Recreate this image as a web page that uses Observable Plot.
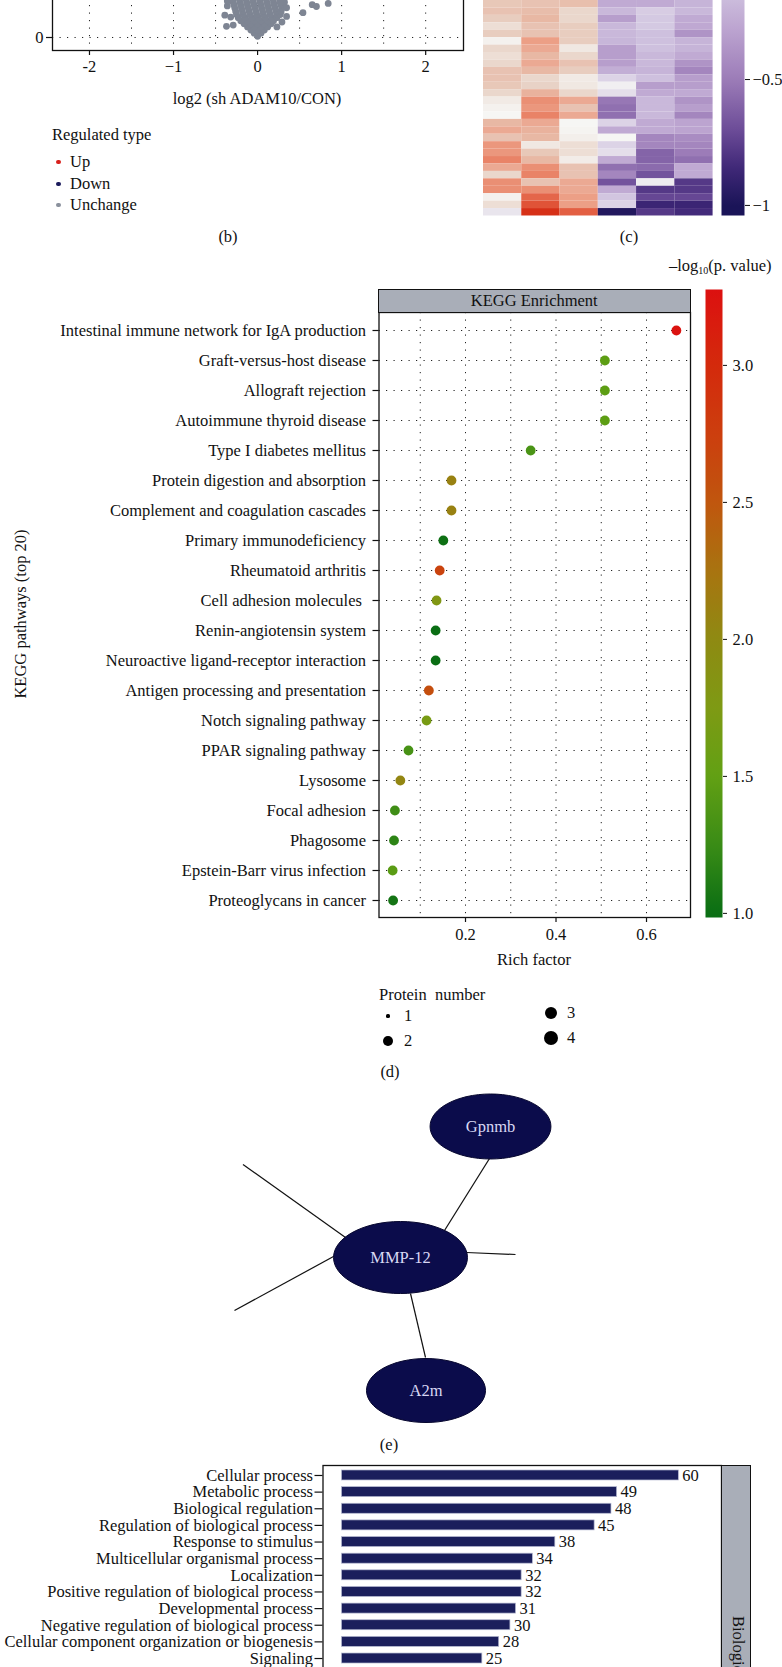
<!DOCTYPE html>
<html><head><meta charset="utf-8">
<script src="https://cdn.jsdelivr.net/npm/d3@7"></script>
<script src="https://cdn.jsdelivr.net/npm/@observablehq/plot@0.6"></script>
<style>
html,body{margin:0;padding:0;background:#fff;}
#fig{position:relative;width:782px;height:1667px;overflow:hidden;font-family:"Liberation Serif","Times New Roman",serif;color:#111;background:#fff;}
.t{position:absolute;font-size:16.5px;line-height:1;white-space:nowrap;}
#fig svg{position:absolute;overflow:visible;}
</style></head>
<body><div id="fig"></div>
<script>
// ---------------- DATA ----------------
// (b) volcano plot: log2 fold change vs significance (only lower part visible)
const volcanoX = [
  0,
  -0.04, 0.04,
  -0.08, 0, 0.08,
  -0.12, -0.04, 0.04, 0.12,
  -0.16, -0.08, 0, 0.08, 0.16,
  -0.2, -0.12, -0.04, 0.04, 0.12, 0.19,
  -0.23, -0.15, -0.07, 0.01, 0.09, 0.17, 0.23,
  -0.25, -0.17, -0.09, -0.01, 0.07, 0.15, 0.23, 0.27,
  -0.26, -0.18, -0.1, -0.02, 0.06, 0.14, 0.22, 0.28,
  -0.27, -0.19, -0.11, -0.03, 0.05, 0.13, 0.21, 0.29,
  -0.28, -0.2, -0.12, -0.04, 0.04, 0.12, 0.2, 0.28, 0.31,
  -0.29, -0.21, -0.13, -0.05, 0.03, 0.11, 0.19, 0.27, 0.32,
  -0.3, -0.22, -0.14, -0.06, 0.02, 0.1, 0.18, 0.26, 0.31,
  -0.3, -0.2, -0.1, 0, 0.1, 0.2, 0.3,
  -0.37, -0.29, -0.32, -0.39, -0.36, -0.36, 0.345, 0.345, 0.29, 0.23, 0.27, 0.54, 0.65, 0.70, 0.84
];
const volcanoY = [
  0.02,
  0.07, 0.07,
  0.12, 0.12, 0.12,
  0.17, 0.17, 0.17, 0.17,
  0.22, 0.22, 0.22, 0.22, 0.22,
  0.27, 0.27, 0.27, 0.27, 0.27, 0.27,
  0.32, 0.32, 0.32, 0.32, 0.32, 0.32, 0.32,
  0.37, 0.37, 0.37, 0.37, 0.37, 0.37, 0.37, 0.37,
  0.42, 0.42, 0.42, 0.42, 0.42, 0.42, 0.42, 0.42,
  0.47, 0.47, 0.47, 0.47, 0.47, 0.47, 0.47, 0.47,
  0.52, 0.52, 0.52, 0.52, 0.52, 0.52, 0.52, 0.52, 0.52,
  0.57, 0.57, 0.57, 0.57, 0.57, 0.57, 0.57, 0.57, 0.57,
  0.62, 0.62, 0.62, 0.62, 0.62, 0.62, 0.62, 0.62, 0.62,
  0.67, 0.67, 0.67, 0.67, 0.67, 0.67, 0.67,
  0.18, 0.20, 0.33, 0.36, 0.51, 0.59, 0.48, 0.34, 0.25, 0.17, 0.57, 0.40, 0.53, 0.50, 0.55
];
const volcanoTicks = [-2, -1, 0, 1, 2];
const volcanoTickLabels = ["-2", "\u22121", "0", "1", "2"];
const volcanoGridX = [-2, -1.5, -1, -0.5, 0, 0.5, 1, 1.5, 2];
const volcanoGridY = [0];
const regulatedTypes = ["Up", "Down", "Unchange"];
const regulatedColors = ["#d8201c", "#1a1a5c", "#8a909c"];

// (c) heatmap: 29 visible proteins x 6 samples (row-scaled values)
const heatCol1 = [0.21,0.24,0.18,0.10,0.18,0.02,0.13,0.10,0.13,0.24,0.24,0.21,0.13,0.05,0.02,0.00,0.30,0.40,0.24,0.52,0.52,0.63,0.40,0.13,0.57,0.57,0.02,0.10,-0.05];
const heatCol2 = [0.24,0.27,0.30,0.24,0.24,0.47,0.40,0.30,0.40,0.30,0.13,0.15,0.34,0.57,0.52,0.63,0.40,0.34,0.30,0.06,0.21,0.30,0.57,0.63,0.24,0.57,0.75,0.83,0.97];
const heatCol3 = [0.26,0.13,0.13,0.18,0.18,0.18,0.06,0.13,0.24,0.18,0.05,0.06,0.13,0.40,0.24,0.40,0.00,0.01,0.03,0.10,0.10,0.04,0.24,0.24,0.40,0.40,0.47,0.47,0.78];
const heatCol4 = [-0.27,-0.20,-0.33,-0.20,-0.20,-0.21,-0.33,-0.33,-0.33,-0.25,-0.10,-0.02,-0.07,-0.52,-0.55,-0.55,-0.10,-0.27,0.00,-0.10,-0.07,-0.27,-0.55,-0.45,-0.67,-0.27,-0.14,-0.10,-0.97];
const heatCol5 = [-0.27,-0.12,-0.13,-0.13,-0.16,-0.16,-0.16,-0.20,-0.20,-0.22,-0.16,-0.33,-0.27,-0.20,-0.20,-0.20,-0.27,-0.27,-0.45,-0.45,-0.60,-0.60,-0.57,-0.67,-0.03,-0.78,-0.72,-0.87,-0.78];
const heatCol6 = [-0.22,-0.20,-0.27,-0.28,-0.38,-0.22,-0.22,-0.27,-0.38,-0.45,-0.33,-0.33,-0.27,-0.38,-0.33,-0.45,-0.30,-0.30,-0.42,-0.45,-0.50,-0.55,-0.27,-0.27,-0.78,-0.78,-0.72,-0.87,-0.84];
const heatStops = [-1, -0.85, -0.7, -0.5, -0.3, -0.15, 0, 0.15, 0.3, 0.45, 0.6, 0.8, 1];
const heatColors = ["#1a1458","#402878","#6c4c98","#9c7cb8","#bca4d0","#cfc2df","#f6f6f4","#e8d2c6","#e8b8a4","#eca28a","#ea8a6e","#e25a3e","#d42810"];
const heatBarTicks = [-1, -0.5];
const heatBarLabels = ["\u22121", "\u22120.5"];

// (d) KEGG enrichment
const keggPathways = [
  "Intestinal immune network for IgA production",
  "Graft-versus-host disease",
  "Allograft rejection",
  "Autoimmune thyroid disease",
  "Type I diabetes mellitus",
  "Protein digestion and absorption",
  "Complement and coagulation cascades",
  "Primary immunodeficiency",
  "Rheumatoid arthritis",
  "Cell adhesion molecules\u00a0",
  "Renin-angiotensin system",
  "Neuroactive ligand-receptor interaction",
  "Antigen processing and presentation",
  "Notch signaling pathway",
  "PPAR signaling pathway",
  "Lysosome",
  "Focal adhesion",
  "Phagosome",
  "Epstein-Barr virus infection",
  "Proteoglycans in cancer"
];
const keggRich = [0.666,0.508,0.508,0.508,0.344,0.169,0.169,0.151,0.143,0.136,0.134,0.134,0.119,0.114,0.074,0.056,0.044,0.042,0.039,0.040];
const keggLogP = [3.25,1.47,1.47,1.47,1.35,2.1,2.1,1.02,2.7,1.8,1.0,1.0,2.58,1.7,1.33,2.05,1.28,1.18,1.45,1.05];
const keggCount = [2,2,2,2,2,2,2,2,2,2,2,2,2,2,2,2,2,2,2,2];
const keggXTicks = [0.2, 0.4, 0.6];
const keggGridX = [0.1, 0.2, 0.3, 0.4, 0.5, 0.6];
const keggStops = [1.0, 1.25, 1.5, 1.75, 2.0, 2.25, 2.5, 2.75, 3.0, 3.28];
const keggColors = ["#0a6e14","#3a8c16","#62a014","#7e9a14","#8e8a12","#a87410","#c0560e","#cc3e0e","#d42a0c","#dc1010"];
const keggBarTicks = [1.0, 1.5, 2.0, 2.5, 3.0];
const proteinNumbers = [1, 2, 3, 4];
const proteinRadii = [1.6, 4.9, 6.3, 7.3];

// (e) protein interaction network (layout coordinates)
const netNames = ["Gpnmb", "MMP-12", "A2m"];
const netX = [490, 400, 425.5];
const netY = [1126, 1257, 1390];
const netSize = [32.5, 36, 32];
const edgeX1 = [489, 242.5, 234, 466, 410];
const edgeY1 = [1158, 1164, 1310, 1252, 1293];
const edgeX2 = [444, 345, 344, 515, 425];
const edgeY2 = [1230, 1237, 1250, 1254, 1357];

// (f) GO classification (biological process)
const goTerms = [
  "Cellular process", "Metabolic process", "Biological regulation", "Regulation of biological process",
  "Response to stimulus", "Multicellular organismal process", "Localization",
  "Positive regulation of biological process", "Developmental process",
  "Negative regulation of biological process", "Cellular component organization or biogenesis", "Signaling"
];
const goCounts = [60, 49, 48, 45, 38, 34, 32, 32, 31, 30, 28, 25];

// ---------------- HELPERS ----------------
const fig = document.getElementById("fig");
const FONT = '"Liberation Serif", "Times New Roman", serif';
const baseStyle = {fontFamily: FONT, fontSize: "16.5px", background: "transparent", color: "#111", overflow: "visible", maxWidth: "none"};
function place(svg, left, top) { svg.style.left = left + "px"; svg.style.top = top + "px"; fig.appendChild(svg); return svg; }
function label(html, x, y, anchor = "middle", size = 16.5) {
  const d = document.createElement("div");
  d.className = "t"; d.innerHTML = html; d.style.fontSize = size + "px";
  d.style.left = x + "px"; d.style.top = y + "px";
  const tx = anchor === "middle" ? "-50%" : anchor === "end" ? "-100%" : "0";
  d.style.transform = `translate(${tx},-50%)`;
  fig.appendChild(d); return d;
}
function dotDiv(x, y, r, color) {
  const d = document.createElement("div");
  Object.assign(d.style, {position: "absolute", left: (x - r) + "px", top: (y - r) + "px", width: 2 * r + "px", height: 2 * r + "px", borderRadius: "50%", background: color});
  fig.appendChild(d);
}
function addGradient(svg, id, colorFn, v0, v1) {
  const ns = "http://www.w3.org/2000/svg";
  const defs = document.createElementNS(ns, "defs");
  const g = document.createElementNS(ns, "linearGradient");
  g.setAttribute("id", id); g.setAttribute("x1", "0"); g.setAttribute("y1", "1"); g.setAttribute("x2", "0"); g.setAttribute("y2", "0");
  for (let k = 0; k <= 60; k++) {
    const t = k / 60, s = document.createElementNS(ns, "stop");
    s.setAttribute("offset", t); s.setAttribute("stop-color", colorFn(v0 + (v1 - v0) * t));
    g.appendChild(s);
  }
  defs.appendChild(g); svg.insertBefore(defs, svg.firstChild);
}
const dotted = {stroke: "#222", strokeWidth: 1, strokeDasharray: "1.2,6.3"};

// ---------------- (b) VOLCANO ----------------
const volcanoPts = volcanoX.map((x, i) => ({x, y: volcanoY[i]}));
const vLab = new Map(volcanoTicks.map((t, i) => [t, volcanoTickLabels[i]]));
const volcano = Plot.plot({
  width: 470, height: 115, marginLeft: 52, marginRight: 7, marginTop: 0, marginBottom: 25,
  style: baseStyle,
  x: {domain: [-2.44, 2.45]},
  y: {domain: [-0.2097, 1.2419]},
  marks: [
    Plot.ruleX(volcanoGridX, dotted),
    Plot.ruleY(volcanoGridY, dotted),
    Plot.dot(volcanoPts, {x: "x", y: "y", r: 3.4, fill: "#7e8593"}),
    Plot.frame({stroke: "#111", strokeWidth: 1.3}),
    Plot.axisX({ticks: volcanoTicks, tickFormat: d => vLab.get(d), tickSize: 5, tickPadding: 5, label: null, strokeWidth: 1.2}),
    Plot.axisY({ticks: [0], tickFormat: () => "0", tickSize: 6, tickPadding: 3, label: null, strokeWidth: 1.2})
  ]
});
place(volcano, 0, -40);
label("log2 (sh ADAM10/CON)", 257, 99);
label("Regulated type", 52, 135, "start");
regulatedTypes.forEach((t, i) => {
  const y = [162, 184, 205][i];
  dotDiv(58.3, y, 2.3, regulatedColors[i]);
  label(t, 70, y, "start");
});
label("(b)", 228, 237);

// ---------------- (c) HEATMAP ----------------
const heatCols = [heatCol1, heatCol2, heatCol3, heatCol4, heatCol5, heatCol6];
const heatCells = [];
heatCols.forEach((col, j) => col.forEach((v, i) => heatCells.push({row: i, col: j, v})));
const heatColorOpts = {type: "linear", domain: heatStops, range: heatColors, interpolate: "rgb", clamp: true};
const heat = Plot.plot({
  width: 229.6, height: 215.5, marginLeft: 0, marginRight: 0, marginTop: 0, marginBottom: 0,
  style: baseStyle,
  x: {type: "band", domain: d3.range(6), padding: 0, round: false, axis: null},
  y: {type: "band", domain: d3.range(heatCol1.length), padding: 0, round: false, axis: null},
  color: heatColorOpts,
  marks: [Plot.cell(heatCells, {x: "col", y: "row", fill: "v", inset: 0})]
});
place(heat, 482.7, 0);
const heatScale = Plot.scale({color: heatColorOpts});
const hbLab = new Map(heatBarTicks.map((t, i) => [t, heatBarLabels[i]]));
const heatBar = Plot.plot({
  width: 70, height: 564, marginLeft: 0, marginRight: 47, marginTop: 0, marginBottom: 0,
  style: baseStyle,
  y: {domain: [-1.04, 1.2]},
  marks: [
    Plot.frame({fill: "url(#heatGrad)", stroke: "none"}),
    Plot.axisY({anchor: "right", ticks: heatBarTicks, tickFormat: d => hbLab.get(d), tickSize: 5, tickPadding: 3, label: null})
  ]
});
addGradient(heatBar, "heatGrad", v => heatScale.apply(Math.max(-1, Math.min(1, v))), -1.04, 1.2);
place(heatBar, 721, -349);
label("(c)", 629, 237);

// ---------------- (d) KEGG ----------------
const keggData = keggPathways.map((name, i) => ({name, rich: keggRich[i], p: keggLogP[i], n: keggCount[i]}));
const keggColorOpts = {type: "linear", domain: keggStops, range: keggColors, interpolate: "rgb", clamp: true};
const keggROpts = {type: "linear", domain: proteinNumbers, range: proteinRadii};
const kegg = Plot.plot({
  width: 700, height: 640, marginLeft: 378.5, marginRight: 10, marginTop: 0, marginBottom: 35,
  style: baseStyle,
  x: {domain: [0.00884, 0.6972]},
  y: {type: "point", domain: keggPathways, padding: 0.55},
  color: keggColorOpts,
  r: keggROpts,
  marks: [
    Plot.ruleX(keggGridX, dotted),
    Plot.ruleY(keggPathways, {y: d => d, ...dotted}),
    Plot.dot(keggData, {x: "rich", y: "name", r: "n", fill: "p", sort: null}),
    Plot.frame({stroke: "#111", strokeWidth: 1.3}),
    Plot.axisX({ticks: keggXTicks, tickFormat: d3.format(".1f"), tickSize: 5, tickPadding: 6, label: null, strokeWidth: 1.2}),
    Plot.axisY({tickSize: 6, tickPadding: 7, label: null, strokeWidth: 1.2})
  ]
});
place(kegg, 0, 312);
const strip = document.createElement("div");
Object.assign(strip.style, {position: "absolute", left: "378px", top: "289px", width: "312.5px", height: "24px", background: "#a9aeb8", border: "1.3px solid #111", boxSizing: "border-box", display: "flex", alignItems: "center", justifyContent: "center", fontSize: "16.5px"});
strip.textContent = "KEGG Enrichment";
fig.appendChild(strip);
const keggScale = Plot.scale({color: keggColorOpts});
const keggBar = Plot.plot({
  width: 80, height: 628, marginLeft: 0, marginRight: 63, marginTop: 0, marginBottom: 0,
  style: baseStyle,
  y: {domain: [0.985, 3.277]},
  marks: [
    Plot.frame({fill: "url(#keggGrad)", stroke: "none"}),
    Plot.axisY({anchor: "right", ticks: keggBarTicks, tickFormat: d3.format(".1f"), tickSize: 4, tickPadding: 6, label: null})
  ]
});
addGradient(keggBar, "keggGrad", v => keggScale.apply(Math.max(1, Math.min(3.28, v))), 0.985, 3.277);
place(keggBar, 705, 289);
label("\u2013log<sub style='font-size:10px;vertical-align:-3px'>10</sub>(p. value)", 669, 267, "start");
const yt = label("KEGG pathways (top 20)", 21, 614);
yt.style.transform = "translate(-50%,-50%) rotate(-90deg)";
label("Rich factor", 534, 960);
label("Protein&nbsp;&nbsp;number", 379, 995, "start");
const rScale = Plot.scale({r: keggROpts});
proteinNumbers.forEach((n, i) => {
  const cx = i < 2 ? 388 : 551, cy = [1016, 1041, 1013, 1038][i];
  dotDiv(cx, cy, rScale.apply(n), "#000");
  label(String(n), cx + 16, cy, "start");
});
label("(d)", 390, 1072);

// ---------------- (e) NETWORK ----------------
const K = 0.5523, ASPECT = 1.86;
const ellipseSymbol = {draw(ctx, size) {
  const ry = Math.sqrt(size / Math.PI), rx = ry * ASPECT;
  ctx.moveTo(rx, 0);
  ctx.bezierCurveTo(rx, K * ry, K * rx, ry, 0, ry);
  ctx.bezierCurveTo(-K * rx, ry, -rx, K * ry, -rx, 0);
  ctx.bezierCurveTo(-rx, -K * ry, -K * rx, -ry, 0, -ry);
  ctx.bezierCurveTo(K * rx, -ry, rx, -K * ry, rx, 0);
  ctx.closePath();
}};
const netNodes = netNames.map((name, i) => ({name, x: netX[i], y: netY[i], s: netSize[i]}));
const netEdges = edgeX1.map((x1, i) => ({x1, y1: edgeY1[i], x2: edgeX2[i], y2: edgeY2[i]}));
const net = Plot.plot({
  width: 782, height: 380, marginLeft: 0, marginRight: 0, marginTop: 0, marginBottom: 0,
  style: baseStyle,
  x: {domain: [0, 782], axis: null},
  y: {domain: [1460, 1080], axis: null},
  r: {type: "identity"},
  marks: [
    Plot.link(netEdges, {x1: "x1", y1: "y1", x2: "x2", y2: "y2", stroke: "#111", strokeWidth: 1.2}),
    Plot.dot(netNodes, {x: "x", y: "y", r: "s", symbol: ellipseSymbol, fill: "#0b0c4b", stroke: "#06062e", strokeWidth: 1, sort: null}),
    Plot.text(netNodes, {x: "x", y: "y", text: "name", fill: "#d8d8f4", fontSize: 16.5})
  ]
});
place(net, 0, 1080);
label("(e)", 389, 1445);

// ---------------- (f) GO ----------------
const goData = goTerms.map((term, i) => ({term, count: goCounts[i]}));
const go = Plot.plot({
  width: 782, height: 210, marginLeft: 322.5, marginRight: 61, marginTop: 0, marginBottom: 7,
  style: baseStyle,
  x: {domain: [-3.383, 67.6], axis: null},
  y: {type: "band", domain: goTerms, paddingInner: 0.4, paddingOuter: 0.3, round: false},
  marks: [
    Plot.barX(goData, {x: "count", y: "term", fill: "#1b1f5c", stroke: "#b4b8d0", strokeWidth: 0.7}),
    Plot.text(goData, {x: "count", y: "term", text: d => String(d.count), textAnchor: "start", dx: 3.5, fill: "#111"}),
    Plot.frame({stroke: "#111", strokeWidth: 1.3}),
    Plot.axisY({tickSize: 8, tickPadding: 2, label: null, strokeWidth: 1.2})
  ]
});
place(go, 0, 1465);
const goStrip = document.createElement("div");
Object.assign(goStrip.style, {position: "absolute", left: "721px", top: "1465px", width: "30px", height: "400px", background: "#a9aeb8", border: "1.3px solid #111", boxSizing: "border-box"});
fig.appendChild(goStrip);
const goStripText = document.createElement("div");
Object.assign(goStripText.style, {position: "absolute", left: "729px", top: "1616px", writingMode: "vertical-rl", fontSize: "16.5px", lineHeight: "1", whiteSpace: "nowrap"});
goStripText.textContent = "Biological process";
fig.appendChild(goStripText);
</script>
</body></html>
